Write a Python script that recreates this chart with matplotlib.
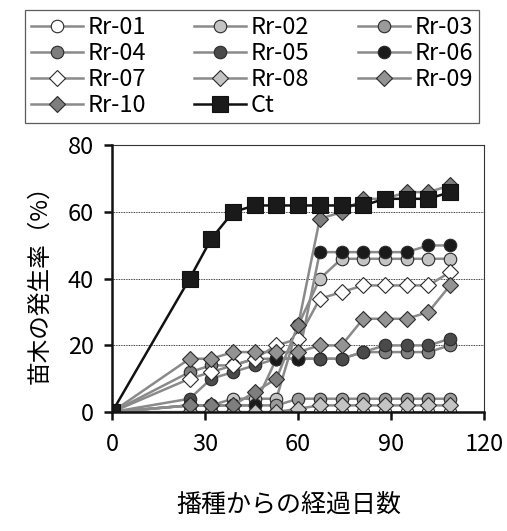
import matplotlib
matplotlib.use("Agg")
import matplotlib.pyplot as plt

plt.rcParams['font.family'] = ['Noto Sans CJK JP', 'DejaVu Sans']

# 播種からの経過日数
days = [0, 25, 32, 39, 46, 53, 60, 67, 74, 81, 88, 95, 102, 109]

# 苗木の発生率 (%)
rr01 = [0, 0, 0, 0, 0, 0, 0, 0, 0, 0, 0, 0, 0, 0]
rr02 = [0, 2, 2, 4, 4, 4, 26, 40, 46, 46, 46, 46, 46, 46]
rr03 = [0, 2, 2, 2, 2, 2, 4, 4, 4, 4, 4, 4, 4, 4]
rr04 = [0, 12, 14, 14, 16, 16, 16, 16, 16, 18, 18, 18, 18, 20]
rr05 = [0, 4, 10, 12, 14, 16, 16, 16, 16, 18, 20, 20, 20, 22]
rr06 = [0, 2, 2, 2, 2, 16, 16, 48, 48, 48, 48, 48, 50, 50]
rr07 = [0, 10, 12, 14, 16, 20, 22, 34, 36, 38, 38, 38, 38, 42]
rr08 = [0, 0, 0, 0, 0, 0, 1, 2, 2, 2, 2, 2, 2, 2]
rr09 = [0, 16, 16, 18, 18, 18, 18, 20, 20, 28, 28, 28, 30, 38]
rr10 = [0, 2, 2, 2, 6, 10, 26, 58, 60, 64, 64, 66, 66, 68]
ct = [0, 40, 52, 60, 62, 62, 62, 62, 62, 62, 64, 64, 64, 66]

series = [
    ("Rr-01", rr01, "o", "#ffffff"),
    ("Rr-02", rr02, "o", "#c4c4c4"),
    ("Rr-03", rr03, "o", "#9a9a9a"),
    ("Rr-04", rr04, "o", "#7e7e7e"),
    ("Rr-05", rr05, "o", "#4a4a4a"),
    ("Rr-06", rr06, "o", "#1a1a1a"),
    ("Rr-07", rr07, "D", "#ffffff"),
    ("Rr-08", rr08, "D", "#c4c4c4"),
    ("Rr-09", rr09, "D", "#939393"),
    ("Rr-10", rr10, "D", "#7e7e7e"),
]

fig = plt.figure(figsize=(5.07, 5.31), dpi=100)
ax = fig.add_axes([0.221, 0.224, 0.734, 0.502])

handles = {}
for name, vals, mk, fc in series:
    ms = 9 if mk == "o" else 8.3
    h, = ax.plot(days, vals, color="#8a8a8a", lw=1.8, marker=mk, ms=ms,
                 mfc=fc, mec="#2a2a2a", mew=0.8, label=name, zorder=3)
    handles[name] = h
h, = ax.plot(days, ct, color="#111111", lw=1.8, marker="s", ms=12,
             mfc="#1a1a1a", mec="#111111", mew=0.8, label="Ct", zorder=4)
handles["Ct"] = h

ax.set_xlim(0, 120)
ax.set_ylim(0, 80)
ax.set_xticks([0, 30, 60, 90, 120])
ax.set_yticks([0, 20, 40, 60, 80])
for y in [20, 40, 60]:
    ax.axhline(y, color="black", lw=0.6, ls=(0, (1, 1)), zorder=1)

for s in ["left", "bottom"]:
    ax.spines[s].set_linewidth(1.8)
    ax.spines[s].set_color("#111111")
for s in ["top", "right"]:
    ax.spines[s].set_linewidth(0.8)
    ax.spines[s].set_color("#333333")
ax.spines["left"].set_zorder(5)
ax.spines["bottom"].set_zorder(5)

ax.tick_params(axis="both", direction="out", length=6, width=1.8,
               labelsize=17, color="#111111")
ax.tick_params(axis="x", pad=9)
ax.tick_params(axis="y", pad=7)

ax.set_ylabel("苗木の発生率（%）", fontsize=17, labelpad=12)
ax.set_xlabel("播種からの経過日数", fontsize=18)
ax.xaxis.set_label_coords(0.475, -0.3)

order = ["Rr-01", "Rr-04", "Rr-07", "Rr-10",
         "Rr-02", "Rr-05", "Rr-08", "Ct",
         "Rr-03", "Rr-06", "Rr-09"]
leg = fig.legend([handles[k] for k in order], order, ncol=3,
                 loc="upper center", bbox_to_anchor=(0.497, 0.99),
                 fontsize=17, frameon=True, fancybox=False,
                 edgecolor="#333333", borderpad=0.25, labelspacing=0.13,
                 handlelength=2.2, handletextpad=0.2, columnspacing=2.05,
                 borderaxespad=0.2)
leg.get_frame().set_linewidth(0.9)

fig.savefig("out.png", dpi=100)
